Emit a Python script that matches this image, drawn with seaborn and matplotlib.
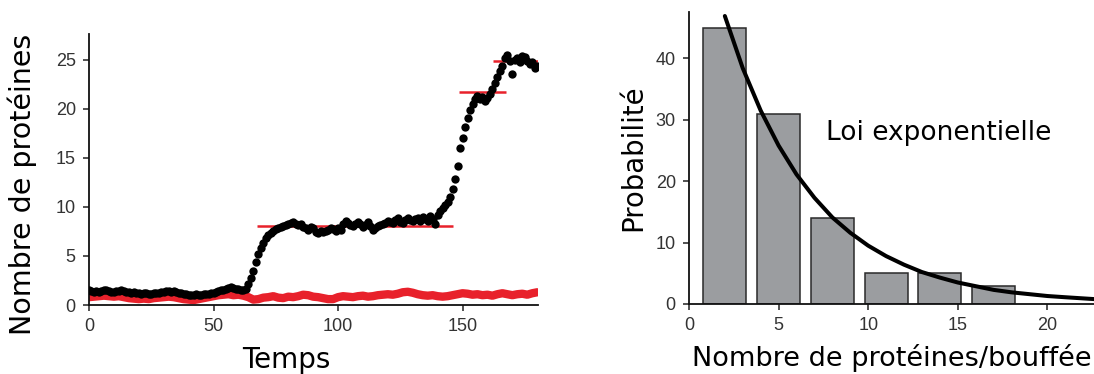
import numpy as np
import pandas as pd
import matplotlib
matplotlib.use("Agg")
import matplotlib.pyplot as plt
import seaborn as sns

# ---------------- data: left panel (time traces) ----------------
time_black = list(range(0, 181))
protein_black = [
    1.5, 1.4, 1.3, 1.4, 1.3, 1.4, 1.5, 1.5, 1.4, 1.3,
    1.3, 1.4, 1.4, 1.5, 1.4, 1.3, 1.3, 1.2, 1.3, 1.2,
    1.2, 1.1, 1.2, 1.2, 1.1, 1.1, 1.2, 1.2, 1.2, 1.3,
    1.3, 1.4, 1.4, 1.3, 1.4, 1.3, 1.2, 1.2, 1.1, 1.1,
    1.0, 1.0, 1.0, 1.1, 1.0, 1.0, 1.1, 1.1, 1.1, 1.2,
    1.2, 1.3, 1.4, 1.5, 1.5, 1.6, 1.7, 1.8, 1.7, 1.6,
    1.6, 1.5, 1.5, 1.6, 2.1, 2.8, 3.5, 4.4, 5.2, 5.8,
    6.3, 6.8, 7.1, 7.3, 7.6, 7.8, 7.9, 8.0, 8.1, 8.2,
    8.3, 8.4, 8.5, 8.3, 8.2, 8.3, 8.0, 7.9, 7.7, 8.0,
    7.9, 7.4, 7.3, 7.6, 7.4, 7.6, 7.7, 7.9, 7.8, 7.6,
    7.9, 7.7, 8.3, 8.6, 8.4, 8.2, 8.1, 8.3, 8.5, 8.3,
    8.0, 8.2, 8.5, 8.1, 7.7, 7.9, 8.1, 8.2, 8.3, 8.4,
    8.6, 8.5, 8.4, 8.7, 8.9, 8.5, 8.4, 8.7, 8.9, 8.7,
    8.6, 8.8, 8.9, 8.6, 9.0, 8.8, 8.6, 9.1, 8.8, 8.3,
    9.2, 9.6, 9.9, 10.2, 10.5, 11.0, 11.8, 12.9, 14.2, 16.0,
    17.0, 18.2, 19.1, 19.9, 20.5, 21.0, 21.3, 21.0, 21.2, 20.8,
    21.1, 21.5, 22.0, 22.7, 23.3, 23.9, 24.4, 25.2, 25.5, 24.9,
    23.6, 25.0, 25.2, 24.8, 25.4, 25.3, 24.9, 24.6, 24.8, 24.2,
    24.4,
]

time_red = list(range(0, 181, 2))
protein_red = [
    0.8, 0.85, 0.9, 0.95, 0.9, 0.85, 0.9, 0.8, 0.7, 0.65,
    0.6, 0.65, 0.6, 0.7, 0.75, 0.8, 0.85, 0.8, 0.7, 0.6,
    0.55, 0.5, 0.6, 0.7, 0.8, 0.9, 1.0, 1.05, 1.1, 1.0,
    1.05, 0.95, 0.8, 0.55, 0.6, 0.75, 0.8, 0.9, 0.75, 0.7,
    0.85, 0.8, 0.9, 1.05, 1.0, 0.85, 0.8, 0.7, 0.6, 0.6,
    0.8, 0.9, 0.85, 0.8, 0.9, 0.95, 0.85, 0.9, 1.0, 1.05,
    1.1, 1.05, 1.15, 1.3, 1.35, 1.25, 1.1, 1.0, 0.95, 1.0,
    0.9, 0.85, 0.9, 1.0, 1.1, 1.2, 1.15, 1.05, 1.1, 1.0,
    1.05, 0.95, 1.1, 1.2, 1.1, 1.0, 1.1, 1.15, 1.05, 1.2,
    1.3,
]

# plateau levels (red horizontal segments)
plateau_levels = [8.1, 21.7, 24.9]
plateau_start = [67.6, 148.4, 162.4]
plateau_end = [146.1, 167.5, 186.0]

# ---------------- data: right panel (burst-size histogram) ----------------
burst_size = [2, 5, 8, 11, 14, 17]
probability = [45, 31, 14, 5, 5, 3]

# exponential law, values
expo_x = [2, 3, 4, 5, 6, 7, 8, 9, 10, 11, 12, 13, 14, 15, 16, 17, 18, 19, 20, 21, 22.6]
expo_y = [46.9, 38.4, 31.5, 25.8, 21.1, 17.3, 14.1, 11.6, 9.5, 7.8, 6.4,
          5.2, 4.3, 3.5, 2.9, 2.3, 1.9, 1.6, 1.3, 1.1, 0.8]

x_ticks_left = [0, 50, 100, 150]
y_ticks_left = [0, 5, 10, 15, 20, 25]
x_ticks_right = [0, 5, 10, 15, 20]
y_ticks_right = [0, 10, 20, 30, 40]

# ---------------- styling ----------------
sns.set_theme(style="ticks")
plt.rcParams['font.family'] = ['DejaVu Sans']
plt.rcParams['text.color'] = 'black'
plt.rcParams['axes.labelcolor'] = 'black'

RED = "#e8212b"
BAR = "#9b9da0"
TICKC = "#333333"
TICKFONT = "Liberation Sans"

fig = plt.figure(figsize=(10.94, 3.74), dpi=100)
ax1 = fig.add_axes([89 / 1094, 1 - 305 / 374, (538 - 89) / 1094, (305 - 34) / 374])
ax2 = fig.add_axes([689 / 1094, 1 - 304 / 374, (1094 - 689) / 1094, (304 - 11.7) / 374])

# ---- left panel ----
df_red = pd.DataFrame({"t": time_red, "n": protein_red})
df_black = pd.DataFrame({"t": time_black, "n": protein_black})

sns.lineplot(data=df_red, x="t", y="n", color=RED, lw=6, ax=ax1, zorder=2,
             solid_capstyle="round")
ax1.hlines(plateau_levels, plateau_start, plateau_end, colors=RED, lw=1.8, zorder=3)
sns.scatterplot(data=df_black, x="t", y="n", color="black", s=36, linewidth=0,
                ax=ax1, zorder=4)

ax1.set_xlim(0, 180.3)
ax1.set_ylim(0, 27.65)
ax1.set_xticks(x_ticks_left)
ax1.set_yticks(y_ticks_left)
ax1.set_xlabel("Temps", fontsize=20, color="black")
ax1.set_ylabel("Nombre de protéines", fontsize=20.5, color="black")
ax1.xaxis.set_label_coords(0.44, -0.150)
ax1.yaxis.set_label_coords(-0.116, 0.446)

# ---- right panel ----
sns.barplot(x=burst_size, y=probability, native_scale=True, width=0.8,
            color=BAR, edgecolor="#2a2a2a", linewidth=1.1, saturation=1,
            ax=ax2, zorder=2)
sns.lineplot(x=expo_x, y=expo_y, color="black", lw=2.9, ax=ax2, zorder=3)
ax2.text(7.67, 27.8, "Loi exponentielle", fontsize=19, va="center", ha="left",
         color="black")

ax2.set_xlim(0, 22.6)
ax2.set_ylim(0, 47.6)
ax2.set_xticks(x_ticks_right)
ax2.set_xticklabels([str(v) for v in x_ticks_right])
ax2.set_yticks(y_ticks_right)
ax2.set_xlabel("Nombre de protéines/bouffée", fontsize=19.5, color="black")
ax2.set_ylabel("Probabilité", fontsize=19.8, color="black")
ax2.xaxis.set_label_coords(0.5, -0.137)
ax2.yaxis.set_label_coords(-0.104, 0.5)

for ax in (ax1, ax2):
    sns.despine(ax=ax)
    ax.spines["left"].set_linewidth(1.3)
    ax.spines["bottom"].set_linewidth(1.3)
    ax.spines["left"].set_color("#111111")
    ax.spines["bottom"].set_color("#111111")
    ax.tick_params(axis="both", length=4.5, width=1.1, color="#222222",
                   labelsize=13, labelcolor=TICKC, pad=5)
    for lab in ax.get_xticklabels() + ax.get_yticklabels():
        lab.set_family(TICKFONT)

fig.savefig("out.png", dpi=100)
